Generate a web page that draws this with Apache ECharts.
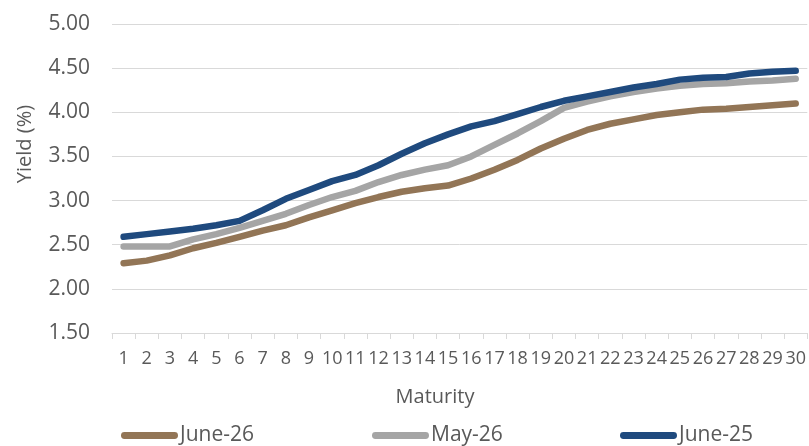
<!DOCTYPE html>
<html>
<head>
<meta charset="utf-8">
<script src="https://cdn.jsdelivr.net/npm/echarts@6/dist/echarts.min.js"></script>
<style>
html,body{margin:0;padding:0;background:#fff;}
#chart{width:809px;height:446px;}
</style>
</head>
<body>
<div id="chart"></div>
<script>
const categories = ['1','2','3','4','5','6','7','8','9','10','11','12','13','14','15','16','17','18','19','20','21','22','23','24','25','26','27','28','29','30'];
const june26 = [2.29, 2.32, 2.38, 2.46, 2.52, 2.59, 2.66, 2.72, 2.81, 2.89, 2.97, 3.04, 3.10, 3.14, 3.17, 3.25, 3.35, 3.46, 3.59, 3.70, 3.80, 3.87, 3.92, 3.97, 4.00, 4.03, 4.04, 4.06, 4.08, 4.10];
const may26 = [2.48, 2.48, 2.48, 2.56, 2.62, 2.69, 2.77, 2.85, 2.95, 3.04, 3.11, 3.21, 3.29, 3.35, 3.40, 3.50, 3.63, 3.76, 3.90, 4.05, 4.12, 4.18, 4.23, 4.27, 4.30, 4.32, 4.33, 4.35, 4.36, 4.38];
const june25 = [2.59, 2.62, 2.65, 2.68, 2.72, 2.77, 2.89, 3.02, 3.12, 3.22, 3.29, 3.40, 3.53, 3.65, 3.75, 3.84, 3.90, 3.98, 4.06, 4.13, 4.18, 4.23, 4.28, 4.32, 4.37, 4.39, 4.40, 4.44, 4.46, 4.47];
const seriesNames = ['June-26', 'May-26', 'June-25'];
const colors = ['#927556', '#A5A5A5', '#1F4A7E'];
const yAxisTitle = 'Yield (%)';
const xAxisTitle = 'Maturity';

const FONT = "'Open Sans', 'Liberation Sans', sans-serif";
const TXT = '#595959';
const chart = echarts.init(document.getElementById('chart'), null, {renderer: 'canvas'});
const seriesData = [june26, may26, june25];
const legendLeft = [121, 372, 620];
const icon = 'path://M3.5,0 H54.5 A3.5,3.5 0 0 1 54.5,7 H3.5 A3.5,3.5 0 0 1 3.5,0 Z';

chart.setOption({
  animation: false,
  backgroundColor: '#fff',
  textStyle: {fontFamily: FONT},
  grid: {left: 112, right: 1, top: 24, bottom: 113, containLabel: false},
  xAxis: {
    type: 'category',
    data: categories,
    boundaryGap: true,
    axisLine: {lineStyle: {color: '#D9D9D9', width: 1}},
    axisTick: {show: true, alignWithLabel: false, length: 6, lineStyle: {color: '#D9D9D9'}},
    axisLabel: {interval: 0, color: TXT, fontSize: 18, fontFamily: FONT, margin: 17},
    splitLine: {show: false}
  },
  yAxis: {
    type: 'value',
    min: 1.5, max: 5, interval: 0.5,
    axisLine: {show: false},
    axisTick: {show: false},
    axisLabel: {color: TXT, fontSize: 21, fontFamily: FONT, margin: 22, formatter: v => v.toFixed(2)},
    splitLine: {lineStyle: {color: '#D9D9D9', width: 1}}
  },
  legend: seriesNames.map((n, i) => ({
    data: [n],
    left: legendLeft[i],
    top: 425,
    padding: 0,
    itemWidth: 57,
    itemHeight: 7,
    icon: icon,
    selectedMode: false,
    textStyle: {color: TXT, fontSize: 21, fontFamily: FONT, padding: [0,0,0,-3]}
  })),
  graphic: [
    {type: 'text', x: 25, y: 144, rotation: Math.PI / 2,
     style: {text: yAxisTitle, fill: TXT, font: "20px 'Open Sans', sans-serif", align: 'center', verticalAlign: 'middle'}},
    {type: 'text', x: 435, y: 397,
     style: {text: xAxisTitle, fill: TXT, font: "20px 'Open Sans', sans-serif", align: 'center', verticalAlign: 'middle'}}
  ],
  series: seriesNames.map((n, i) => ({
    name: n,
    type: 'line',
    data: seriesData[i],
    symbol: 'none',
    smooth: false,
    lineStyle: {color: colors[i], width: 6.5, cap: 'round', join: 'round'},
    itemStyle: {color: colors[i]},
    z: 2 + i
  }))
});
</script>
</body>
</html>
